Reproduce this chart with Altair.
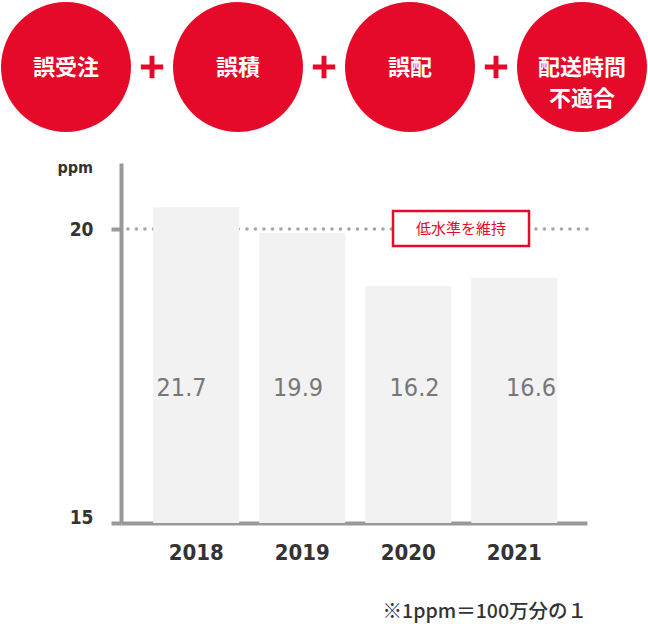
import altair as alt
import pandas as pd

# ---- data ----
years = ["2018", "2019", "2020", "2021"]
bar_heights = [20.37, 19.93, 19.03, 19.17]   # drawn (stylised) bar tops on the ppm axis
value_labels = ["21.7", "19.9", "16.2", "16.6"]
steps = ["誤受注", "誤積", "誤配", "配送時間\n不適合"]
y_ticks = [15, 20]
target = [20]
unit = "ppm"
badge = "低水準を維持"
note = "※1ppm＝100万分の１"

RED = "#E50A2A"
GREY = "#999999"
DARK = "#333333"
NARROW = "'Liberation Sans Narrow', 'DejaVu Sans Condensed', 'Roboto', sans-serif"
JP = "'Noto Sans CJK JP', sans-serif"

bars_df = pd.DataFrame({"year": years, "top": bar_heights, "label": value_labels})

rows = []
for i, s in enumerate(steps):
    rows.append({"slot": f"s{2*i}", "kind": "step", "text": s})
    if i < len(steps) - 1:
        rows.append({"slot": f"s{2*i+1}", "kind": "plus", "text": "+"})
flow_df = pd.DataFrame(rows)
slot_order = list(flow_df["slot"])

W, H = 466, 360

slot_x = alt.X("slot:N", sort=slot_order,
               scale=alt.Scale(type="point", domain=slot_order, range=[-55, 461], padding=0),
               axis=None)

circles = alt.Chart(flow_df).transform_filter("datum.kind == 'step'").mark_circle(
    size=16900, color=RED, opacity=1
).encode(x=slot_x, y=alt.value(-96))

circle_text = alt.Chart(flow_df).transform_filter("datum.kind == 'step'").mark_text(
    color="white", font=JP, fontSize=22, fontWeight="bold", lineBreak="\n",
    lineHeight=31, baseline="middle", align="center"
).encode(x=slot_x, y=alt.value(-95), text="text:N")

plus_path = "M-1,-0.22H-0.22V-1H0.22V-0.22H1V0.22H0.22V1H-0.22V0.22H-1Z"
pluses = alt.Chart(flow_df).transform_filter("datum.kind == 'plus'").mark_point(
    shape=plus_path, filled=True, size=500, color=RED, opacity=1, strokeWidth=0
).encode(x=slot_x, y=alt.value(-96))

y_scale = alt.Scale(domain=[15, 15 + H / 58.8], nice=False, zero=False)

dots = alt.Chart(pd.DataFrame({"v": target})).mark_rule(
    color="#a5a5a5", strokeWidth=3.5, strokeDash=[0.1, 8.4], strokeCap="round"
).encode(y=alt.Y("v:Q", scale=y_scale))

band = alt.Scale(domain=years, paddingInner=0.1887, paddingOuter=0.292, align=0.52)

x_enc = alt.X(
    "year:O", title=None, scale=band,
    axis=alt.Axis(labelAngle=0, ticks=False, tickSize=0, domainWidth=4, domainColor=GREY,
                  labelFont=NARROW, labelFontSize=22, labelFontWeight="bold",
                  labelColor=DARK, labelPadding=19),
)

bars = alt.Chart(bars_df).mark_bar(color="#f2f2f2").encode(
    x=x_enc,
    y=alt.Y("top:Q", scale=y_scale, title=None,
            axis=alt.Axis(values=y_ticks, format="d", grid=False, tickSize=10, tickWidth=4,
                          tickColor=GREY, domainWidth=4, domainColor=GREY,
                          labelFont=NARROW, labelFontSize=19, labelFontWeight="bold",
                          labelColor=DARK, labelPadding=18,
                          labelBaseline={"expr": "datum.value == 15 ? 'alphabetic' : 'middle'"})),
    y2=alt.datum(15),
)

values = alt.Chart(bars_df).mark_text(
    font=NARROW, fontSize=25, color="#777777", baseline="middle", align="center"
).encode(x=alt.X("year:O", scale=band, axis=None), y=alt.value(225), text="label:N")

badge_df = pd.DataFrame({"t": [badge]})
box = alt.Chart(badge_df).mark_rect(fill="white", stroke=RED, strokeWidth=2.5).encode(
    x=alt.value(272), x2=alt.value(408), y=alt.value(48), y2=alt.value(83)
)
box_text = alt.Chart(badge_df).mark_text(
    font=JP, fontSize=15, color=RED, baseline="middle", align="center"
).encode(x=alt.value(340), y=alt.value(65.5), text="t:N")

unit_text = alt.Chart(pd.DataFrame({"t": [unit]})).mark_text(
    font=NARROW, fontSize=16, fontWeight="bold", color=DARK, align="right", baseline="middle"
).encode(x=alt.value(-28), y=alt.value(5), text="t:N")

note_text = alt.Chart(pd.DataFrame({"t": [note]})).mark_text(
    font=JP, fontSize=19.5, fontWeight=500, color=DARK, align="right", baseline="middle"
).encode(x=alt.value(466), y=alt.value(449), text="t:N")

chart = alt.layer(
    dots, bars, values, box, box_text, unit_text, note_text,
    circles, circle_text, pluses
).resolve_scale(x="independent").properties(
    width=W, height=H,
    padding={"left": 121, "top": 163, "right": 61, "bottom": 101},
    autosize="none",
).configure_view(stroke=None)

chart.save("out.html", embed_options={"renderer": "svg", "actions": False})
